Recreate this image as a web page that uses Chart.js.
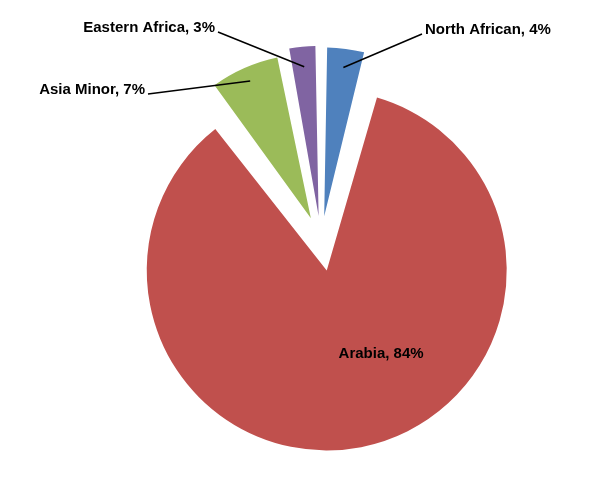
<!DOCTYPE html>
<html>
<head>
<script src="https://cdn.jsdelivr.net/npm/chart.js@4"></script>
<style>
  body { margin: 0; background: #fff; }
  #wrap { width: 600px; height: 502px; }
</style>
</head>
<body>
<div id="wrap"><canvas id="pieChart" width="600" height="502"></canvas></div>
<script>
const regions = ['North African', 'Arabia', 'Asia Minor', 'Eastern Africa'];
const shares = [4, 84, 7, 3];
const colors = ['#4F81BD', '#C0504D', '#9BBB59', '#8064A2'];
// Chart.js v4 draws arc offset at a quarter of this value
const explode = [100, 120, 100, 100];

// where each label's text sits (outside labels get a leader line)
const labelSpots = [
    { x: 425, y: 30, align: 'left', inside: false },
    { x: 0, y: 0, align: 'center', inside: true },
    { x: 145, y: 90, align: 'right', inside: false },
    { x: 215, y: 28, align: 'right', inside: false }
];

const pieLabels = {
    id: 'pieLabels',
    afterDatasetsDraw(chart) {
        const ctx = chart.ctx;
        const arcs = chart.getDatasetMeta(0).data;
        ctx.save();
        ctx.font = 'bold 15px "Liberation Sans", Arial, sans-serif';
        ctx.fillStyle = '#000';
        ctx.strokeStyle = '#000';
        ctx.lineWidth = 1.5;
        ctx.textBaseline = 'middle';
        arcs.forEach((arc, i) => {
            const p = arc.getProps(['x', 'y', 'startAngle', 'endAngle', 'outerRadius']);
            const mid = (p.startAngle + p.endAngle) / 2;
            const shift = explode[i] / 4;
            const text = regions[i] + ', ' + shares[i] + '%';
            const spot = labelSpots[i];
            if (spot.inside) {
                const r = p.outerRadius * 0.5 + shift;
                ctx.textAlign = 'center';
                ctx.fillText(text, p.x + Math.cos(mid) * r + 40, p.y + Math.sin(mid) * r + 10);
                return;
            }
            const r = p.outerRadius + shift;
            const ex = p.x + Math.cos(mid) * r;
            const ey = p.y + Math.sin(mid) * r;
            const lx = spot.align === 'left' ? spot.x - 3 : spot.x + 3;
            ctx.beginPath();
            ctx.moveTo(ex, ey);
            ctx.lineTo(lx, spot.y + 4);
            ctx.stroke();
            ctx.textAlign = spot.align;
            ctx.fillText(text, spot.x, spot.y);
        });
        ctx.restore();
    }
};

new Chart(document.getElementById('pieChart').getContext('2d'), {
    type: 'pie',
    data: {
        labels: regions,
        datasets: [{
            data: shares,
            backgroundColor: colors,
            borderWidth: 0,
            offset: explode
        }]
    },
    options: {
        responsive: false,
        animation: false,
        layout: { padding: { left: 111, right: 69, top: 31, bottom: 51 } },
        plugins: {
            legend: { display: false },
            tooltip: { enabled: false }
        }
    },
    plugins: [pieLabels]
});
</script>
</body>
</html>
